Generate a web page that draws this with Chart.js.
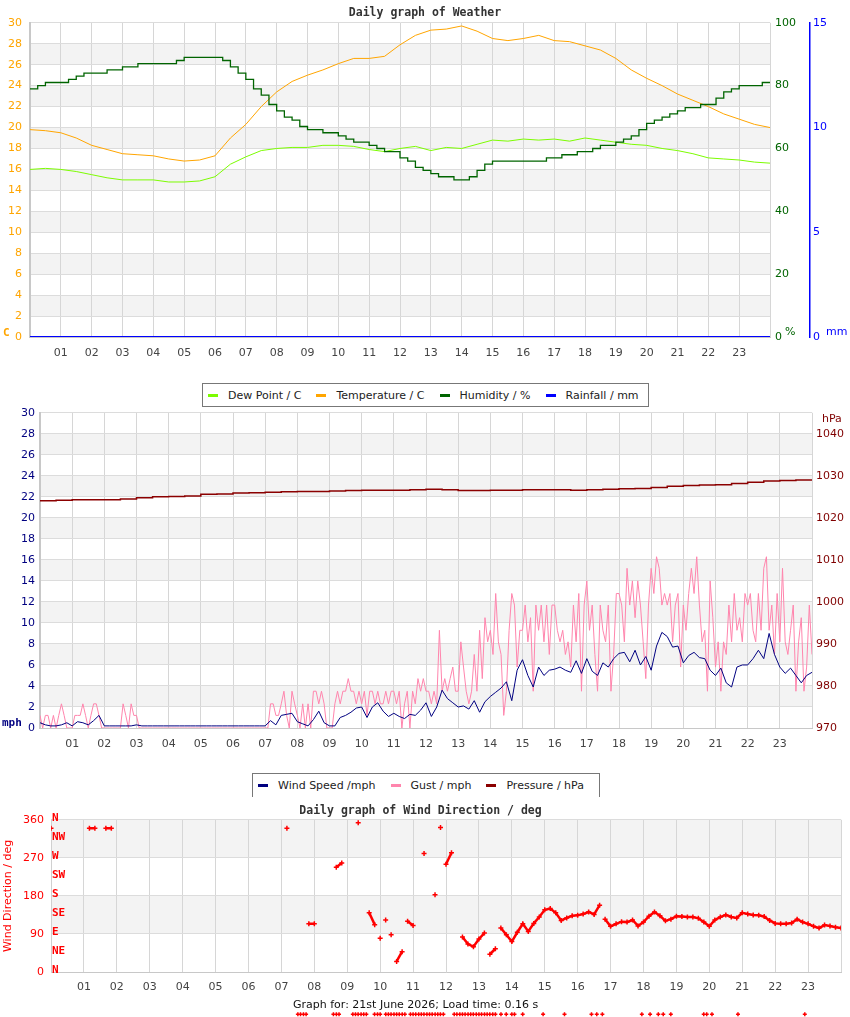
<!DOCTYPE html>
<html lang="en">
<head>
<meta charset="UTF-8">
<title>Daily graph of Weather</title>
<script src="https://cdn.jsdelivr.net/npm/chart.js"></script>
<style>
    body { margin: 0; background: #fff; }
    #page { position: relative; width: 850px; height: 1017px; overflow: hidden; font-family: 'DejaVu Sans', sans-serif; }
    canvas { position: absolute; left: 0; }
    .legend { position: absolute; box-sizing: border-box; border: 1px solid #777; background: #fff; display: flex; align-items: center; padding-left: 5px; font-size: 11px; color: #222; z-index: 2; white-space: nowrap; }
    .legend .item { display: flex; align-items: center; margin-right: 15px; }
    .legend i { display: inline-block; width: 10px; height: 3px; margin-right: 10px; }
    .unit { position: absolute; font-size: 11px; line-height: 12px; z-index: 2; }
    .mono { font-family: 'DejaVu Sans Mono', monospace; font-weight: bold; }
</style>
</head>
<body>
<div id="page">
    <canvas id="weather" width="850" height="362" style="top:0"></canvas>
    <canvas id="wind" width="850" height="363" style="top:390px"></canvas>
    <canvas id="direction" width="850" height="220" style="top:797px"></canvas>

    <span class="unit mono" style="left:3px;top:327px;color:#FFA500">C</span>
    <span class="unit" style="left:785px;top:326px;color:#006400">%</span>
    <span class="unit" style="left:826px;top:326px;color:#0000FF">mm</span>
    <span class="unit" style="left:822px;top:413px;color:#800000">hPa</span>
    <span class="unit mono" style="left:2px;top:717px;color:#000080">mph</span>

    <div class="legend" style="left:202px;top:383px;width:447px;height:24px">
        <span class="item"><i style="background:#7CFC00"></i>Dew Point / C</span>
        <span class="item"><i style="background:#FFA500"></i>Temperature / C</span>
        <span class="item"><i style="background:#006400"></i>Humidity / %</span>
        <span class="item"><i style="background:#0000FF"></i>Rainfall / mm</span>
    </div>
    <div class="legend" style="left:252px;top:773px;width:348px;height:24px;border-bottom:none">
        <span class="item"><i style="background:#000080"></i>Wind Speed /mph</span>
        <span class="item"><i style="background:#FF85AD"></i>Gust / mph</span>
        <span class="item"><i style="background:#8B0000"></i>Pressure / hPa</span>
    </div>
    <div class="unit" style="left:293px;top:999px;color:#111">Graph for: 21st June 2026; Load time: 0.16 s</div>
</div>

<script>
    // half-hourly readings, hour 0 to 24
    const temperature = [
        19.8, 19.7, 19.5, 19.0, 18.3, 17.9, 17.5, 17.4, 17.3, 17.0, 16.8, 16.9,
        17.3, 19.0, 20.3, 22.0, 23.4, 24.4, 25.0, 25.5, 26.1, 26.6, 26.6, 26.8,
        27.9, 28.8, 29.3, 29.4, 29.7, 29.2, 28.5, 28.3, 28.5, 28.8, 28.3, 28.2,
        27.8, 27.4, 26.6, 25.5, 24.7, 24.0, 23.2, 22.6, 22.0, 21.3, 20.8, 20.3,
        20.0
    ];
    const dewPoint = [
        16.0, 16.1, 16.0, 15.8, 15.5, 15.2, 15.0, 15.0, 15.0, 14.8, 14.8, 14.9,
        15.3, 16.5, 17.2, 17.8, 18.0, 18.1, 18.1, 18.3, 18.3, 18.2, 17.9, 17.7,
        18.0, 18.2, 17.8, 18.1, 18.0, 18.4, 18.8, 18.7, 18.9, 18.8, 18.9, 18.7,
        19.0, 18.8, 18.6, 18.4, 18.3, 18.0, 17.8, 17.5, 17.1, 17.0, 16.9, 16.7,
        16.6
    ];
    // quarter-hourly
    const humidity = [
        79, 80, 81, 81, 81, 82, 83, 84, 84, 84, 85, 85,
        86, 86, 87, 87, 87, 87, 87, 88, 89, 89, 89, 89,
        89, 88, 86, 84, 82, 79, 77, 74, 72, 70, 69, 67,
        66, 66, 65, 65, 64, 63, 62, 62, 61, 60, 59, 59,
        57, 56, 54, 53, 52, 51, 51, 50, 50, 51, 53, 55,
        56, 56, 56, 56, 56, 56, 56, 57, 57, 58, 58, 59,
        59, 60, 61, 61, 62, 63, 64, 66, 68, 69, 70, 71,
        72, 73, 73, 74, 74, 76, 78, 79, 80, 80, 80, 81,
        81
    ];
    // hourly
    const rainfall = [0, 0, 0, 0, 0, 0, 0, 0, 0, 0, 0, 0, 0, 0, 0, 0, 0, 0, 0, 0, 0, 0, 0, 0, 0];

    // every 10 minutes
    const windSpeed = [
        0.5, 0.3, 0.2, 0.2, 0.3, 0.5,   0.2, 0.6, 0.5, 0.3, 0.7, 1.2,
        0.2, 0.2, 0.2, 0.2, 0.2, 0.2,   0.3, 0.2, 0.2, 0.2, 0.2, 0.2,
        0.2, 0.2, 0.2, 0.2, 0.2, 0.2,   0.2, 0.2, 0.2, 0.2, 0.2, 0.2,
        0.2, 0.2, 0.2, 0.2, 0.2, 0.2,   0.2, 0.7, 0.3, 1.2, 1.3, 1.4,
        0.6, 0.4, 0.2, 0.8, 1.6, 0.5,   0.2, 0.2, 1.0, 1.2, 1.5, 1.9,
        2.0, 1.0, 2.0, 2.4, 1.6, 1.1,   1.4, 1.1, 0.9, 1.3, 1.2, 1.7,
        2.4, 1.1, 2.0, 3.6, 2.8, 2.4,   2.0, 2.1, 1.8, 2.6, 1.5, 2.5,
        3.0, 3.4, 3.8, 4.4, 2.6, 5.5,   6.5, 5.0, 3.9, 5.8, 5.0, 5.5,
        5.6, 5.8, 5.5, 5.3, 6.4, 5.2,   6.6, 5.4, 5.0, 6.2, 5.8, 6.6,
        7.1, 7.2, 6.3, 7.4, 6.0, 6.8,   5.5, 7.8, 9.1, 8.7, 7.7, 7.8,
        6.2, 6.9, 7.2, 6.7, 6.6, 5.5,   5.0, 5.7, 4.3, 3.9, 5.8, 6.0,
        6.0, 6.6, 7.4, 6.6, 9.0, 7.0,   5.8, 5.2, 5.7, 5.0, 4.3, 5.0,
        5.3
    ];
    // every 5 minutes
    const gust = [
        1.2, 0, 1.2, 1.2, 0, 1.2, 0, 1.2, 2.3, 1.2, 0, 0,
        0, 1.2, 1.2, 1.2, 2.3, 1.2, 0, 1.2, 2.3, 2.3, 1.2, 0,
        0, 0, 0, 0, 0, 0, 0, 2.3, 1.2, 0, 2.3, 1.2,
        1.2, 0, 0, 0, 0, 0, 0, 0, 0, 0, 0, 0,
        0, 0, 0, 0, 0, 0, 0, 0, 0, 0, 0, 0,
        0, 0, 0, 0, 0, 0, 0, 0, 0, 0, 0, 0,
        0, 0, 0, 0, 0, 0, 0, 0, 0, 0, 0, 0,
        0, 0, 2.3, 2.3, 1.2, 1.2, 2.3, 3.5, 1.2, 0, 3.5, 2.3,
        1.2, 0, 2.3, 0, 2.3, 0, 3.5, 3.5, 2.3, 3.5, 2.3, 0,
        0, 0, 2.3, 3.5, 2.3, 3.5, 3.5, 4.7, 3.5, 3.5, 2.3, 3.5,
        2.3, 3.5, 1.2, 3.5, 3.5, 2.3, 3.5, 2.3, 2.3, 3.5, 2.3, 3.5,
        3.5, 2.3, 3.5, 0, 2.3, 3.5, 0, 3.5, 2.3, 4.7, 3.5, 4.7,
        3.5, 3.5, 2.3, 3.5, 2.3, 9.3, 3.5, 4.7, 3.5, 4.7, 5.8, 3.5,
        3.5, 8.2, 5.8, 3.5, 2.3, 3.5, 7.0, 3.5, 9.3, 4.7, 10.5, 8.2,
        9.3, 7.0, 12.8, 8.2, 7.0, 1.2, 3.5, 9.3, 12.8, 11.7, 5.8, 9.3,
        9.3, 11.7, 8.2, 10.5, 3.5, 11.7, 9.3, 11.7, 8.2, 11.7, 7.0, 11.7,
        11.7, 9.3, 8.2, 9.3, 7.0, 8.2, 5.8, 11.7, 8.2, 12.8, 3.5, 11.7,
        14.0, 9.3, 11.7, 7.0, 3.5, 11.7, 9.3, 8.2, 11.7, 3.5, 7.0, 12.8,
        12.8, 11.7, 8.2, 15.2, 11.7, 14.0, 10.5, 14.0, 11.7, 8.2, 4.7, 11.7,
        15.2, 12.8, 16.3, 15.2, 11.7, 12.8, 11.7, 12.8, 8.2, 11.7, 12.8, 5.8,
        11.7, 9.3, 12.8, 15.2, 12.8, 16.3, 11.7, 8.2, 9.3, 3.5, 14.0, 10.5,
        5.8, 8.2, 3.5, 8.2, 7.0, 11.7, 8.2, 12.8, 9.3, 10.5, 8.2, 12.8,
        11.7, 12.8, 9.3, 8.2, 12.8, 9.3, 15.2, 16.3, 9.3, 11.7, 7.0, 12.8,
        8.2, 15.2, 8.2, 7.0, 9.3, 11.7, 3.5, 8.2, 10.5, 3.5, 5.8, 11.7,
        7.0
    ];
    // half-hourly
    const pressure = [
        1024.1, 1024.2, 1024.3, 1024.3, 1024.3, 1024.5, 1024.8, 1025.0, 1025.1, 1025.2,
        1025.6, 1025.7, 1025.9, 1026.0, 1026.1, 1026.2, 1026.3, 1026.3, 1026.4, 1026.5,
        1026.6, 1026.6, 1026.6, 1026.7, 1026.8, 1026.7, 1026.5, 1026.5, 1026.6, 1026.6,
        1026.7, 1026.7, 1026.7, 1026.6, 1026.7, 1026.8, 1026.9, 1027.0, 1027.2, 1027.5,
        1027.7, 1027.8, 1027.9, 1028.2, 1028.5, 1028.8, 1028.9, 1029.0, 1029.1
    ];
    const pressureTicks = [970, 980, 990, 1000, 1010, 1020, 1030, 1040];

    // every 10 minutes, null = no reading
    const windDirection = [
        340, null, null, null, null, null,   null, 340, 340, null, 340, 340,
        null, null, null, null, null, null,   null, null, null, null, null, null,
        null, null, null, null, null, null,   null, null, null, null, null, null,
        null, null, null, null, null, null,   null, 340, null, null, null, 114,
        114, null, null, null, 248, 258,     null, null, 353, null, 140, 112,
        80, 123, 88, 25, 48, 120,             110, null, 280, null, 183, 342,
        255, 282, null, 83, 66, 60,           78, 92, 42, 55, 104, 88,
        72, 94, 114, 96, 115, 130,            147, 150, 140, 122, 128, 133,
        134, 137, 142, 136, 158, 125,         108, 114, 119, 118, 123, 109,
        118, 132, 142, 133, 121, 125,         132, 131, 130, 130, 127, 118,
        108, 123, 130, 135, 130, 128,         140, 137, 135, 134, 131, 122,
        115, 114, 114, 116, 125, 118,         114, 108, 104, 111, 109, 106,
        104
    ];
    // readings drawn below the direction axis
    const calmHours = [
        7.5, 7.58, 7.67, 7.75, 8.58, 8.67, 8.75, 9.17, 9.25, 9.33, 9.42, 9.5, 9.58,
        9.83, 9.92, 10.0, 10.17, 10.25, 10.33, 10.42, 10.5, 10.58, 10.67, 10.75,
        10.92, 11.0, 11.08, 11.17, 11.25, 11.33, 11.42, 11.5, 11.58, 11.67, 11.75, 11.83, 11.92,
        12.25, 12.33, 12.42, 12.5, 12.58, 12.67, 12.75, 12.83, 12.92, 13.0, 13.08, 13.17,
        13.25, 13.33, 13.42, 13.5, 13.67, 13.83, 14.0, 14.08, 14.33, 14.95, 15.6,
        16.42, 16.58, 16.75, 17.95, 18.2, 18.45, 18.6, 18.83, 19.83, 19.92, 20.08, 20.87, 22.9
    ];
    const calmMark = -100;
    const compassPoints = ['N', 'NE', 'E', 'SE', 'S', 'SW', 'W', 'NW', 'N'];
    const compassAngles = [0, 45, 90, 135, 180, 225, 270, 315, 360];

    Chart.defaults.font.family = "'DejaVu Sans', sans-serif";
    Chart.defaults.font.size = 11;

    const titleFont = { family: "'DejaVu Sans Mono', monospace", size: 11.5, weight: 'bold' };

    function series(values, step) {
        return values.map((v, i) => ({ x: i * step, y: v }));
    }

    function hourAxis(height, pad) {
        return {
            type: 'linear', min: 0, max: 24,
            ticks: {
                stepSize: 1, autoSkip: false, maxRotation: 0, color: '#444', padding: pad,
                callback: v => (v > 0 && v < 24) ? String(v).padStart(2, '0') : ''
            },
            grid: { color: '#d6d6d6', drawTicks: false },
            border: { color: '#c8c8c8' },
            afterFit: s => { s.height = height; }
        };
    }

    // grey bands between every other pair of grid lines
    function bands(axisId, from, to, step) {
        return {
            id: 'bands',
            beforeDraw(chart) {
                const a = chart.chartArea, s = chart.scales[axisId], ctx = chart.ctx;
                ctx.save();
                ctx.fillStyle = '#f3f3f3';
                for (let v = from; v < to; v += 2 * step) {
                    const top = s.getPixelForValue(v + step), bottom = s.getPixelForValue(v);
                    ctx.fillRect(a.left, top, a.right - a.left, bottom - top);
                }
                ctx.restore();
            }
        };
    }

    const common = {
        responsive: false,
        animation: false,
        devicePixelRatio: 1,
        elements: { point: { radius: 0 }, line: { borderWidth: 1, tension: 0 } }
    };

    new Chart(document.getElementById('weather'), {
        type: 'line',
        data: {
            datasets: [
                { label: 'Rainfall / mm', data: series(rainfall, 1), borderColor: '#0000FF', borderWidth: 2, yAxisID: 'yR' },
                { label: 'Humidity / %', data: series(humidity, 0.25), borderColor: '#006400', borderWidth: 1.3, stepped: true, yAxisID: 'yH' },
                { label: 'Temperature / C', data: series(temperature, 0.5), borderColor: '#FFA500', yAxisID: 'y' },
                { label: 'Dew Point / C', data: series(dewPoint, 0.5), borderColor: '#7CFC00', yAxisID: 'y' }
            ]
        },
        options: {
            ...common,
            plugins: {
                legend: { display: false },
                tooltip: { enabled: false },
                title: { display: true, text: 'Daily graph of Weather', font: titleFont, color: '#333', padding: { top: 6, bottom: 3 } }
            },
            scales: {
                x: hourAxis(25, 10),
                y: {
                    position: 'left', min: 0, max: 30,
                    ticks: { stepSize: 2, color: '#FFA500', padding: 8 },
                    grid: { color: '#dcdcdc', drawTicks: false },
                    border: { color: '#c8c8c8', width: 2 },
                    afterFit: s => { s.width = 30; }
                },
                yH: {
                    position: 'right', min: 0, max: 100,
                    ticks: { stepSize: 20, color: '#006400', padding: 5 },
                    grid: { drawOnChartArea: false, drawTicks: false },
                    border: { display: false },
                    afterFit: s => { s.width = 40; }
                },
                yR: {
                    position: 'right', min: 0, max: 15,
                    ticks: { stepSize: 5, color: '#0000FF', padding: 3 },
                    grid: { drawOnChartArea: false, drawTicks: false },
                    border: { color: '#0000FF', width: 1.5 },
                    afterFit: s => { s.width = 40; }
                }
            }
        },
        plugins: [bands('y', 2, 30, 2)]
    });

    new Chart(document.getElementById('wind'), {
        type: 'line',
        data: {
            datasets: [
                { label: 'Wind Speed /mph', data: series(windSpeed, 1 / 6), borderColor: '#000080', yAxisID: 'y' },
                { label: 'Gust / mph', data: series(gust, 1 / 12), borderColor: '#FF85AD', yAxisID: 'y' },
                { label: 'Pressure / hPa', data: series(pressure, 0.5), borderColor: '#8B0000', borderWidth: 1.5, stepped: true, yAxisID: 'yP' }
            ]
        },
        options: {
            ...common,
            plugins: {
                legend: { display: false },
                tooltip: { enabled: false },
                title: { display: true, text: 'Daily graph of Wind Speed / Pressure', font: titleFont, color: '#333', padding: { top: 4, bottom: 5 } }
            },
            scales: {
                x: hourAxis(25, 10),
                y: {
                    position: 'left', min: 0, max: 30,
                    ticks: { stepSize: 2, color: '#000080', padding: 5 },
                    grid: { color: '#dcdcdc', drawTicks: false },
                    border: { color: '#c8c8c8', width: 2 },
                    afterFit: s => { s.width = 40; }
                },
                yP: {
                    position: 'right', min: 970, max: 1045,
                    afterBuildTicks: s => { s.ticks = pressureTicks.map(v => ({ value: v })); },
                    ticks: { color: '#800000', padding: 4, callback: v => String(v) },
                    grid: { drawOnChartArea: false, drawTicks: false },
                    border: { display: false },
                    afterFit: s => { s.width = 38; }
                }
            }
        },
        plugins: [bands('y', 2, 30, 2)]
    });

    // compass names inside the plot, and the readings that sit below the axis
    const compassPlugin = {
        id: 'compass',
        beforeDatasetsDraw(chart) {
            const s = chart.scales.y, ctx = chart.ctx;
            ctx.save();
            ctx.font = "bold 11px 'DejaVu Sans Mono', monospace";
            ctx.fillStyle = '#FF0000';
            ctx.textBaseline = 'middle';
            compassPoints.forEach((label, i) => {
                ctx.fillText(label, chart.chartArea.left + 1, s.getPixelForValue(compassAngles[i]) - 1.5);
            });
            ctx.restore();
        },
        afterDatasetsDraw(chart) {
            const xs = chart.scales.x, ys = chart.scales.y, ctx = chart.ctx;
            const y = ys.getPixelForValue(calmMark);
            ctx.save();
            ctx.strokeStyle = '#FF0000';
            ctx.lineWidth = 1.5;
            ctx.beginPath();
            calmHours.forEach(h => {
                const x = xs.getPixelForValue(h);
                ctx.moveTo(x - 2, y); ctx.lineTo(x + 2, y);
                ctx.moveTo(x, y - 2); ctx.lineTo(x, y + 2);
            });
            ctx.stroke();
            ctx.restore();
        }
    };

    new Chart(document.getElementById('direction'), {
        type: 'line',
        data: {
            datasets: [
                {
                    label: 'Wind Direction', data: series(windDirection, 1 / 6),
                    borderColor: '#FF0000', borderWidth: 2.5, spanGaps: false,
                    segment: { borderColor: c => Math.abs(c.p1.parsed.y - c.p0.parsed.y) > 30 ? 'rgba(0,0,0,0)' : undefined },
                    pointStyle: 'cross', pointRadius: 2.5, pointBorderWidth: 1.5, pointBorderColor: '#FF0000'
                }
            ]
        },
        options: {
            ...common,
            layout: { padding: { right: 9 } },
            plugins: {
                legend: { display: false },
                tooltip: { enabled: false },
                title: { display: true, text: 'Daily graph of Wind Direction / deg', font: titleFont, color: '#333', padding: { top: 7, bottom: 2 } }
            },
            scales: {
                x: hourAxis(45, 9),
                y: {
                    position: 'left', min: 0, max: 360,
                    ticks: { stepSize: 90, color: '#FF0000', padding: 7 },
                    title: { display: true, text: 'Wind Direction / deg', color: '#FF0000', font: { size: 11 }, padding: { top: 2, bottom: 0 } },
                    grid: { color: '#dcdcdc', drawTicks: false },
                    border: { color: '#d0d0d0' },
                    afterFit: s => { s.width = 51; }
                }
            }
        },
        plugins: [bands('y', 90, 360, 90), compassPlugin]
    });
</script>
</body>
</html>
